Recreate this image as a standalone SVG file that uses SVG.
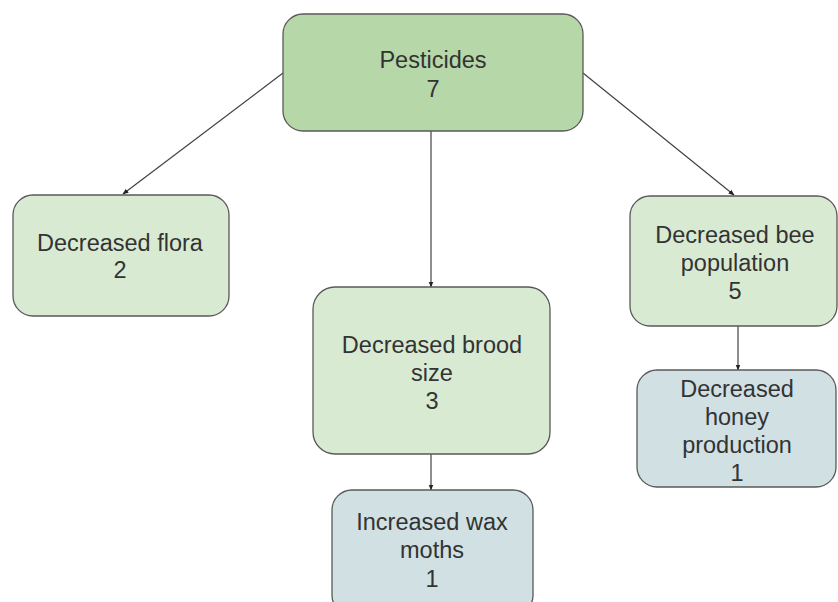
<svg xmlns="http://www.w3.org/2000/svg" width="838" height="602" viewBox="0 0 838 602">
<style>
.box{stroke:#595959;stroke-width:1.3}
.g1{fill:#b6d7a8}
.g2{fill:#d9ead3}
.b1{fill:#d0e0e3}
text{font-family:"Liberation Sans",Arial,sans-serif;font-size:23.5px;fill:#333;text-anchor:middle}
.edge{stroke:#424242;stroke-width:1.2;fill:none;marker-end:url(#ah)}
</style>
<defs>
<marker id="ah" viewBox="0 0 10 10" refX="9" refY="5" markerWidth="6" markerHeight="6" markerUnits="userSpaceOnUse" orient="auto">
<path d="M0,1 L10,5 L0,9 z" fill="#222"/>
</marker>
</defs>
<rect width="838" height="602" fill="#fff"/>
<g id="connectors">
<line class="edge" x1="283" y1="73" x2="123" y2="194"/>
<line class="edge" x1="431" y1="131" x2="431" y2="287"/>
<line class="edge" x1="583" y1="73" x2="734" y2="195"/>
<line class="edge" x1="431" y1="454" x2="431" y2="490"/>
<line class="edge" x1="738" y1="326" x2="738" y2="370"/>
</g>
<g id="pesticides">
<rect class="box g1" x="283" y="14" width="300" height="117" rx="20"/>
<text x="433" y="68">Pesticides</text>
<text x="433" y="97">7</text>
</g>
<g id="flora">
<rect class="box g2" x="13" y="195" width="216" height="121" rx="20"/>
<text x="120" y="251">Decreased flora</text>
<text x="120" y="278">2</text>
</g>
<g id="brood">
<rect class="box g2" x="313" y="287" width="237" height="167" rx="22"/>
<text x="432" y="353">Decreased brood</text>
<text x="432" y="381">size</text>
<text x="432" y="409">3</text>
</g>
<g id="waxmoths">
<rect class="box b1" x="332" y="490" width="201" height="125" rx="20"/>
<text x="432" y="530">Increased wax</text>
<text x="432" y="558">moths</text>
<text x="432" y="587">1</text>
</g>
<g id="bee">
<rect class="box g2" x="630" y="196" width="207" height="130" rx="20"/>
<text x="735" y="243">Decreased bee</text>
<text x="735" y="271">population</text>
<text x="735" y="299">5</text>
</g>
<g id="honey">
<rect class="box b1" x="637" y="370" width="199" height="117" rx="20"/>
<text x="737" y="397">Decreased</text>
<text x="737" y="425">honey</text>
<text x="737" y="453">production</text>
<text x="737" y="481">1</text>
</g>
</svg>
